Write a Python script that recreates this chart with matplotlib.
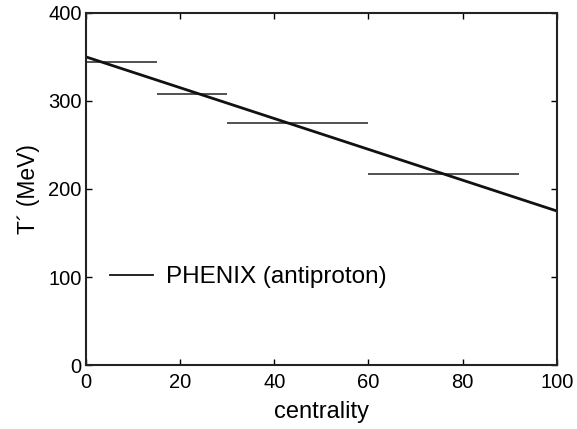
import matplotlib
matplotlib.use("Agg")
import matplotlib.pyplot as plt

# centrality bins and fitted T' values (MeV)
bin_lo = [0, 15, 30, 60]
bin_hi = [15, 30, 60, 92]
t_vals = [344, 308, 275, 217]

# PHENIX (antiproton) linear trend
line_x = [0, 100]
line_y = [350, 175]

plt.rcParams["font.family"] = ["Liberation Sans", "DejaVu Sans"]
plt.rcParams["font.size"] = 14

fig = plt.figure(figsize=(5.77, 4.29), dpi=100)
ax = fig.add_axes([0.149, 0.149, 0.816, 0.821])

ax.hlines(t_vals, bin_lo, bin_hi, color="#222222", lw=1.1)
ax.plot(line_x, line_y, color="#111111", lw=2.0, label="PHENIX (antiproton)")

ax.set_xlim(0, 100)
ax.set_ylim(0, 400)
ax.set_xticks([0, 20, 40, 60, 80, 100])
ax.set_yticks([0, 100, 200, 300, 400])
ax.tick_params(direction="in", top=True, right=True, length=4, width=1.0,
               labelsize=14.5)
ax.tick_params(axis="x", pad=6)
ax.tick_params(axis="y", pad=3)
for s in ax.spines.values():
    s.set_linewidth(1.5)
    s.set_color("#222222")

ax.set_xlabel("centrality", fontsize=17, labelpad=6)
ax.set_ylabel("T\u00b4 (MeV)", fontsize=16.5, labelpad=6)

leg = ax.legend(loc="center left", bbox_to_anchor=(0.005, 0.25), frameon=False,
                fontsize=17.5, handlelength=1.75, handletextpad=0.55)
leg.get_lines()[0].set_linewidth(1.3)

fig.savefig("out.png", dpi=100)
